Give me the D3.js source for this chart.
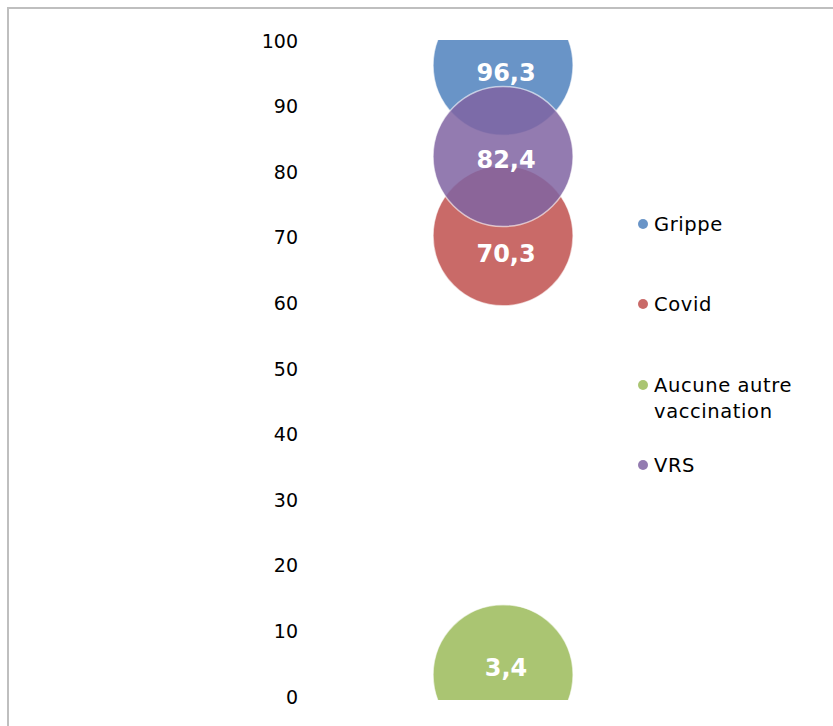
<!DOCTYPE html>
<html>
<head>
<meta charset="utf-8">
<script src="https://cdn.jsdelivr.net/npm/d3@7"></script>
<style>
  html, body { margin: 0; padding: 0; background: #fff; }
  svg { display: block; }
</style>
</head>
<body>
<svg id="chart" width="833" height="726"></svg>
<script>
// Vaccination coverage (%) by vaccine
const categories = ["Grippe", "Covid", "Aucune autre vaccination", "VRS"];
const values = [96.3, 70.3, 3.4, 82.4];
const legendLines = [["Grippe"], ["Covid"], ["Aucune autre", "vaccination"], ["VRS"]];
const colors = ["#4F81BD", "#C0504D", "#9BBB59", "#8064A2"];
const yTicks = [0, 10, 20, 30, 40, 50, 60, 70, 80, 90, 100];
// Drawing order: later bubbles sit on top
const drawOrder = [0, 1, 2, 3];
// Vertical nudge of each value label relative to its bubble centre
const labelNudge = [7, 17, -8, 2.5];

const svg = d3.select("#chart");
const font = "'DejaVu Sans', Verdana, sans-serif";

// Chart frame
svg.append("rect")
  .attr("x", 8).attr("y", 8)
  .attr("width", 840).attr("height", 730)
  .attr("fill", "none")
  .attr("stroke", "#bfbfbf")
  .attr("stroke-width", 2);

const plot = { left: 310, right: 640, top: 40, bottom: 700 };

const y = d3.scaleLinear().domain([0, 100]).range([plot.bottom - 3, plot.top + 1]);
const x = d3.scaleLinear().domain([0, 1]).range([plot.left, plot.right]);
const r = 70;

// Value axis labels, no line
const axis = d3.axisLeft(y).tickValues(yTicks).tickSize(0).tickPadding(0)
  .tickFormat(d3.format("d"));
const gAxis = svg.append("g").attr("transform", "translate(298,0)").call(axis);
gAxis.select(".domain").remove();
gAxis.selectAll("text")
  .attr("font-family", font)
  .attr("font-size", 19)
  .attr("fill", "#000");

// Clip bubbles to the plot area
svg.append("defs").append("clipPath").attr("id", "plotClip")
  .append("rect")
  .attr("x", 0).attr("y", plot.top)
  .attr("width", 833).attr("height", plot.bottom - plot.top);

const cx = x(0.585);
const gB = svg.append("g").attr("clip-path", "url(#plotClip)");
gB.selectAll("circle")
  .data(drawOrder)
  .join("circle")
  .attr("cx", cx)
  .attr("cy", i => y(values[i]))
  .attr("r", r)
  .attr("fill", i => colors[i])
  .attr("fill-opacity", 0.85)
  .attr("stroke", "#ffffff")
  .attr("stroke-opacity", 0.6)
  .attr("stroke-width", 1.5);

// Value labels
svg.append("g").selectAll("text")
  .data(drawOrder)
  .join("text")
  .attr("x", cx + 3)
  .attr("y", i => y(values[i]) + labelNudge[i] + 9)
  .attr("text-anchor", "middle")
  .attr("font-family", font)
  .attr("font-weight", "bold")
  .attr("font-size", 24)
  .attr("fill", "#fff")
  .text(i => d3.format(".1f")(values[i]).replace(".", ","));

// Legend
const legendY = [224, 304, 385, 465];
const gL = svg.append("g");
categories.forEach((c, i) => {
  gL.append("circle")
    .attr("cx", 643).attr("cy", legendY[i])
    .attr("r", 5)
    .attr("fill", colors[i])
    .attr("fill-opacity", 0.85);
  const t = gL.append("text")
    .attr("font-family", font)
    .attr("font-size", 19.5)
    .attr("letter-spacing", 0.6)
    .attr("fill", "#000");
  legendLines[i].forEach((line, k) => {
    t.append("tspan")
      .attr("x", 654)
      .attr("y", legendY[i] + 7 + k * 26)
      .text(line);
  });
});
</script>
</body>
</html>
